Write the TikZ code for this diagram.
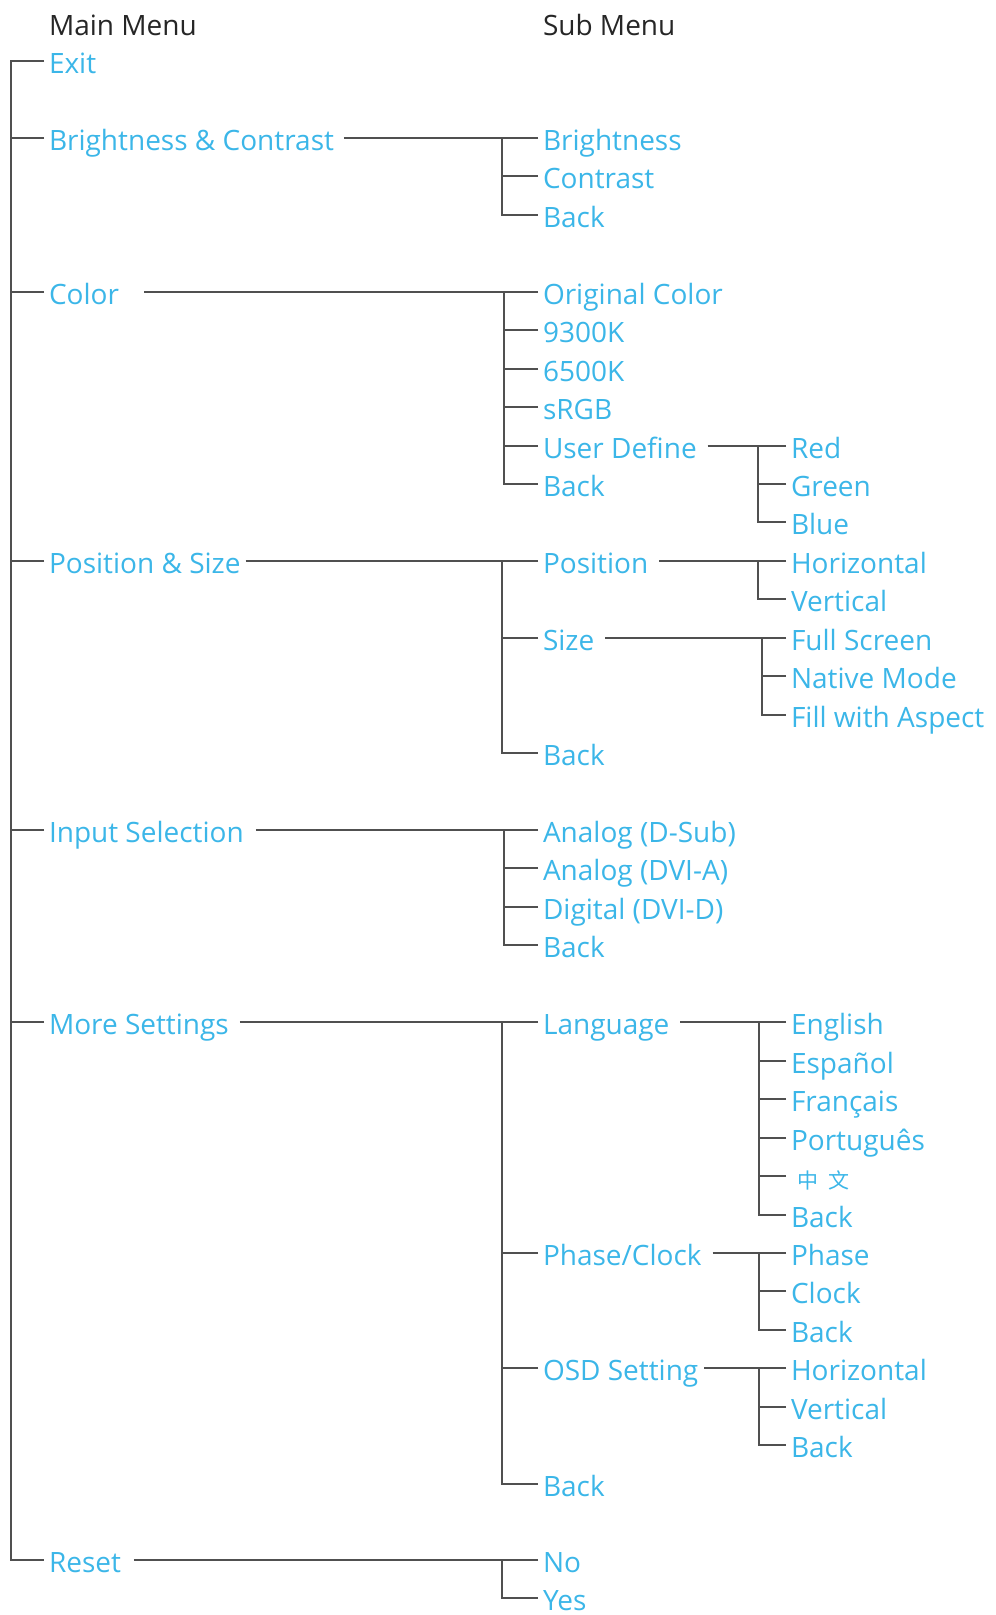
\documentclass[tikz,border=0pt]{standalone}
\usepackage{fontspec}
\setmainfont{Open Sans}
\newfontfamily\cjk{Noto Sans CJK SC}
\definecolor{menublue}{RGB}{59,182,232}
\definecolor{wiregray}{RGB}{80,80,80}
\begin{document}
\begin{tikzpicture}[x=1pt, y=-1pt,
    item/.style={anchor=west, inner sep=0pt, outer xsep=5pt, text height=26pt, text depth=2pt, font=\fontsize{28}{32}\selectfont, text=menublue},
    head/.style={item, text=black!85},
    wire/.style={draw=wiregray, line width=1.8pt},
    link/.style={wire, shorten <=6pt}
]
    \useasboundingbox (0,0) rectangle (996,1615);

    \node[head] (mainhead) at (44,23) {Main Menu};
    \node[head] (subhead) at (538,23) {Sub Menu};

    \node[item] (exit) at (44,61) {Exit};
    \node[item] (bc) at (44,138) {Brightness \& Contrast};
    \node[item] (color) at (44,292) {Color};
    \node[item] (possize) at (44,561) {Position \& Size};
    \node[item] (input) at (44,830) {Input Selection};
    \node[item] (more) at (44,1022) {More Settings};
    \node[item] (reset) at (44,1560) {Reset};

    \node[item] (bri) at (538,138) {Brightness};
    \node[item] (con) at (538,176) {Contrast};
    \node[item] (bcback) at (538,215) {Back};
    \node[item] (orig) at (538,292) {Original Color};
    \node[item] (k93) at (538,330) {9300K};
    \node[item] (k65) at (538,369) {6500K};
    \node[item] (srgb) at (538,407) {sRGB};
    \node[item] (user) at (538,446) {User Define};
    \node[item] (colback) at (538,484) {Back};
    \node[item] (pos) at (538,561) {Position};
    \node[item] (size) at (538,638) {Size};
    \node[item] (psback) at (538,753) {Back};
    \node[item] (dsub) at (538,830) {Analog (D-Sub)};
    \node[item] (dvia) at (538,868) {Analog (DVI-A)};
    \node[item] (dvid) at (538,907) {Digital (DVI-D)};
    \node[item] (inback) at (538,945) {Back};
    \node[item] (lang) at (538,1022) {Language};
    \node[item] (phclk) at (538,1253) {Phase/Clock};
    \node[item] (osd) at (538,1368) {OSD Setting};
    \node[item] (moreback) at (538,1484) {Back};
    \node[item] (no) at (538,1560) {No};
    \node[item] (yes) at (538,1598) {Yes};

    \node[item] (red) at (786,446) {Red};
    \node[item] (green) at (786,484) {Green};
    \node[item] (blue) at (786,522) {Blue};
    \node[item] (phor) at (786,561) {Horizontal};
    \node[item] (pver) at (786,599) {Vertical};
    \node[item] (full) at (786,638) {Full Screen};
    \node[item] (native) at (786,676) {Native Mode};
    \node[item] (fill) at (786,715) {Fill with Aspect};
    \node[item] (eng) at (786,1022) {English};
    \node[item] (esp) at (786,1061) {Español};
    \node[item] (fra) at (786,1099) {Français};
    \node[item] (por) at (786,1138) {Português};
    \node[item] (zh) at (786,1176) {\hspace{6pt}{\cjk\fontsize{21}{24}\selectfont 中\hspace{10pt}文}};
    \node[item] (lback) at (786,1215) {Back};
    \node[item] (phase) at (786,1253) {Phase};
    \node[item] (clock) at (786,1291) {Clock};
    \node[item] (pcback) at (786,1330) {Back};
    \node[item] (ohor) at (786,1368) {Horizontal};
    \node[item] (over) at (786,1407) {Vertical};
    \node[item] (oback) at (786,1445) {Back};

    % main trunk
    \draw[wire] (exit.west) -- ++(-33,0) |- (reset.west);
    \draw[wire] (bc.west) -- ++(-33,0);
    \draw[wire] (color.west) -- ++(-33,0);
    \draw[wire] (possize.west) -- ++(-33,0);
    \draw[wire] (input.west) -- ++(-33,0);
    \draw[wire] (more.west) -- ++(-33,0);

    % sub menus
    \draw[link, shorten <=5pt] (bc.east) -- (bri.west);
    \draw[wire] (bri.west) -- ++(-36,0) |- (bcback.west);
    \draw[wire] (con.west) -- ++(-36,0);

    \draw[link, shorten <=20pt] (color.east) -- (orig.west);
    \draw[wire] (orig.west) -- ++(-34,0) |- (colback.west);
    \draw[wire] (k93.west) -- ++(-34,0);
    \draw[wire] (k65.west) -- ++(-34,0);
    \draw[wire] (srgb.west) -- ++(-34,0);
    \draw[wire] (user.west) -- ++(-34,0);

    \draw[link, shorten <=0pt] (possize.east) -- (pos.west);
    \draw[wire] (pos.west) -- ++(-36,0) |- (psback.west);
    \draw[wire] (size.west) -- ++(-36,0);

    \draw[link, shorten <=7pt] (input.east) -- (dsub.west);
    \draw[wire] (dsub.west) -- ++(-34,0) |- (inback.west);
    \draw[wire] (dvia.west) -- ++(-34,0);
    \draw[wire] (dvid.west) -- ++(-34,0);

    \draw[link] (more.east) -- (lang.west);
    \draw[wire] (lang.west) -- ++(-36,0) |- (moreback.west);
    \draw[wire] (phclk.west) -- ++(-36,0);
    \draw[wire] (osd.west) -- ++(-36,0);

    \draw[link, shorten <=8pt] (reset.east) -- (no.west);
    \draw[wire] (no.west) -- ++(-36,0) |- (yes.west);

    % third level
    \draw[link] (user.east) -- (red.west);
    \draw[wire] (red.west) -- ++(-28,0) |- (blue.west);
    \draw[wire] (green.west) -- ++(-28,0);

    \draw[link] (pos.east) -- (phor.west);
    \draw[wire] (phor.west) -- ++(-28,0) |- (pver.west);

    \draw[link] (size.east) -- (full.west);
    \draw[wire] (full.west) -- ++(-24,0) |- (fill.west);
    \draw[wire] (native.west) -- ++(-24,0);

    \draw[link] (lang.east) -- (eng.west);
    \draw[wire] (eng.west) -- ++(-27,0) |- (lback.west);
    \draw[wire] (esp.west) -- ++(-27,0);
    \draw[wire] (fra.west) -- ++(-27,0);
    \draw[wire] (por.west) -- ++(-27,0);
    \draw[wire] (zh.west) -- ++(-27,0);

    \draw[link] (phclk.east) -- (phase.west);
    \draw[wire] (phase.west) -- ++(-27,0) |- (pcback.west);
    \draw[wire] (clock.west) -- ++(-27,0);

    \draw[link, shorten <=1pt] (osd.east) -- (ohor.west);
    \draw[wire] (ohor.west) -- ++(-27,0) |- (oback.west);
    \draw[wire] (over.west) -- ++(-27,0);
\end{tikzpicture}
\end{document}
